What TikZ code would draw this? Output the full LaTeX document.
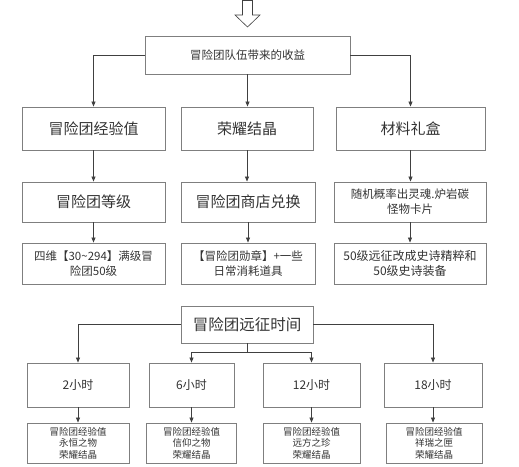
\documentclass[tikz,border=0pt]{standalone}
\usepackage{fontspec}
\setmainfont{Noto Sans CJK SC}
\usetikzlibrary{arrows.meta}
\definecolor{boxline}{HTML}{7F7F7F}
\definecolor{conn}{HTML}{404040}
\definecolor{txt}{HTML}{333333}
\begin{document}
\begin{tikzpicture}[x=1pt,y=-1pt,
  bx/.style={draw=boxline,line width=0.9pt,rectangle,inner sep=0pt,text=txt,align=center,font=#1},
  bx/.default=\fontsize{12}{14}\selectfont,
  arr/.style={draw=conn,line width=0.7pt,-{Triangle[length=5pt,width=4pt]}},
  ln/.style={draw=conn,line width=0.7pt}]
\useasboundingbox (0,0) rectangle (519,466);
% top hollow arrow
\draw[draw=conn,line width=0.6pt,fill=white] (242.5,0.5) -- (252.5,0.5) -- (252.5,15) -- (260,15) -- (247.5,27) -- (235,15) -- (242.5,15) -- cycle;
% top box
\node[bx=\fontsize{11.5}{13}\selectfont,minimum width=205pt,minimum height=38pt] (top) at (247.5,55) {冒险团队伍带来的收益};
% row 1
\node[bx=\fontsize{15}{17}\selectfont,minimum width=143pt,minimum height=43pt] (a1) at (93.5,128.5) {冒险团经验值};
\node[bx=\fontsize{15}{17}\selectfont,minimum width=132pt,minimum height=43pt] (b1) at (247,128.5) {荣耀结晶};
\node[bx=\fontsize{15}{17}\selectfont,minimum width=149pt,minimum height=43pt] (c1) at (410.5,128.5) {材料礼盒};
% row 2
\node[bx=\fontsize{15}{17}\selectfont,minimum width=143pt,minimum height=40pt] (a2) at (93.5,202) {冒险团等级};
\node[bx=\fontsize{15}{17}\selectfont,minimum width=134pt,minimum height=40pt] (b2) at (248,202) {冒险团商店兑换};
\node[bx=\fontsize{11.5}{15}\selectfont,minimum width=152pt,minimum height=40pt] (c2) at (410,202) {随机概率出灵魂.炉岩碳\\怪物卡片};
% row 3
\node[bx=\fontsize{11.5}{15}\selectfont,minimum width=143pt,minimum height=41pt] (a3) at (93.5,263.5) {四维【30\textasciitilde294】满级冒\\险团50级};
\node[bx=\fontsize{11.5}{15}\selectfont,minimum width=134pt,minimum height=41pt] (b3) at (248,263.5) {【冒险团勋章】+一些\\日常消耗道具};
\node[bx=\fontsize{12}{15}\selectfont,minimum width=152pt,minimum height=41pt] (c3) at (410,263.5) {50级远征改成史诗精粹和\\50级史诗装备};
% connectors top
\draw[arr] (top.west) -| (a1.north);
\draw[arr] (top.south) -- (top.south |- b1.north);
\draw[arr] (top.east) -| (c1.north);
\foreach \c in {a,b,c}{
  \draw[arr] (\c1.south) -- (\c1.south |- \c2.north);
  \draw[arr] (\c2.south) -- (\c2.south |- \c3.north);
}
% expedition
\node[bx=\fontsize{15.5}{17}\selectfont,minimum width=132pt,minimum height=37pt] (ex) at (247,324.5) {冒险团远征时间};
\node[bx,minimum width=102pt,minimum height=44pt] (h2) at (78,385) {2小时};
\node[bx,minimum width=85pt,minimum height=44pt] (h6) at (191.5,385) {6小时};
\node[bx,minimum width=97pt,minimum height=44pt] (h12) at (311.5,385) {12小时};
\node[bx,minimum width=98pt,minimum height=44pt] (h18) at (433,385) {18小时};
\node[bx=\fontsize{9.5}{11.5}\selectfont,minimum width=102pt,minimum height=40pt] (r2) at (78,443) {冒险团经验值\\永恒之物\\荣耀结晶};
\node[bx=\fontsize{9.5}{11.5}\selectfont,minimum width=90pt,minimum height=40pt] (r6) at (191.5,443) {冒险团经验值\\信仰之物\\荣耀结晶};
\node[bx=\fontsize{9.5}{11.5}\selectfont,minimum width=97pt,minimum height=40pt] (r12) at (311.5,443) {冒险团经验值\\远方之珍\\荣耀结晶};
\node[bx=\fontsize{9.5}{11.5}\selectfont,minimum width=96pt,minimum height=40pt] (r18) at (434,443) {冒险团经验值\\祥瑞之匣\\荣耀结晶};
\coordinate (mid) at (247,352.5);
\draw[arr] (ex.west) -| (h2.north);
\draw[arr] (ex.east) -| (h18.north);
\draw[ln] (ex.south) -- (mid);
\draw[arr] (mid) -| (h6.north);
\draw[arr] (mid) -| (h12.north);
\foreach \h in {2,6,12,18}{
  \draw[arr] (h\h.south) -- (h\h.south |- r\h.north);
}
\end{tikzpicture}
\end{document}
